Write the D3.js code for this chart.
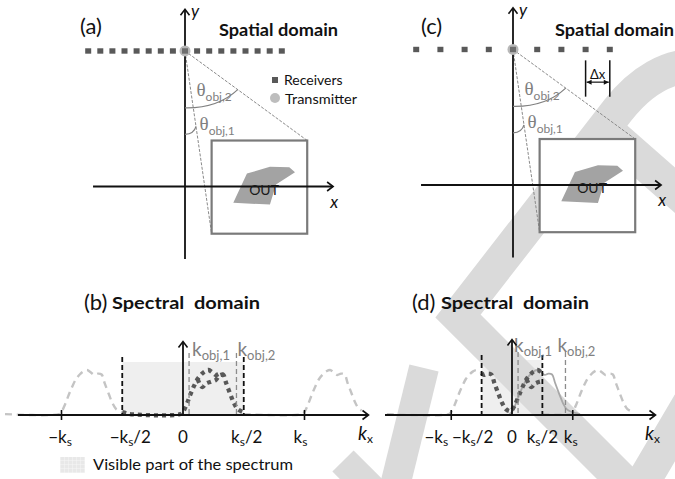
<!DOCTYPE html>
<html>
<head>
<meta charset="utf-8">
<script src="https://cdn.jsdelivr.net/npm/d3@7"></script>
<style>
  html, body { margin: 0; padding: 0; background: #fff; }
  svg { display: block; font-family: Lato, "Open Sans", sans-serif; }
</style>
</head>
<body>
<svg id="fig" width="675" height="479"></svg>
<script>
// ---------------- data ----------------
// receiver indices along the array (pitch Δx)
const receiverIdxA = [-8, -7, -6, -5, -4, -3, -2, -1, 0, 1, 2, 3, 4, 5, 6, 7, 8];
const receiverIdxC = [-4, -3, -2, -1, 0, 1, 2, 3, 4];
const pitchA = 1;          // Δx in panel (a)
const pitchC = 2;          // Δx doubled in panel (c)
const arrayHeight = 11.2;  // array height above the x axis (same units)

// region of interest and object under test
const boxX = [2.2, 10.1];
const boxY = [-3.9, 3.8];
const objectShape = [[5.12, 1.07], [7.02, 1.63], [8.62, 1.60], [9.09, 1.18],
                     [7.52, 0.17], [7.02, -1.49], [3.99, -1.35]];

// object spectrum: wavenumber (in units of ks of panel b) and magnitude
const spectrumK = [-0.02, 0.0, 0.03, 0.06, 0.09, 0.12, 0.15, 0.18, 0.21, 0.24, 0.27, 0.30,
                   0.33, 0.355, 0.39, 0.42, 0.45, 0.49, 0.53, 0.56];
const spectrumA = [0.02, 0.07, 0.24, 0.45, 0.64, 0.80, 0.90, 0.97, 1.00, 0.95, 0.89, 0.92,
                   0.90, 0.71, 0.46, 0.26, 0.13, 0.07, 0.04, 0.02];
// second stroke of the spectrum around its maximum
const innerK = [0.12, 0.14, 0.16, 0.19, 0.23, 0.27, 0.30, 0.33];
const innerA = [0.80, 0.68, 0.62, 0.70, 0.74, 0.78, 0.88, 0.90];

const kObj = [0.05, 0.44];           // kobj,1 and kobj,2
const ksB = 1.0;                     // sampling wavenumber, panel (b)
const ksD = 0.5;                     // sampling wavenumber, panel (d) (Δx doubled)
const tickMultiples = [-1, -0.5, 0, 0.5, 1];
const tickLabels = [["−k", "s", ""], ["−k", "s", "/2"], ["0", "", ""], ["k", "s", "/2"], ["k", "s", ""]];

// ---------------- helpers ----------------
const svg = d3.select("#fig");
const INK = "#111";
const GREY = "#808080";

function chevron(g, x, y, dir) {
  const p = d3.path();
  if (dir === "right") { p.moveTo(x - 6, y - 4.5); p.lineTo(x, y); p.lineTo(x - 6, y + 4.5); }
  else { p.moveTo(x - 4.5, y + 6); p.lineTo(x, y); p.lineTo(x + 4.5, y + 6); }
  g.append("path").attr("d", p.toString()).attr("fill", "none")
    .attr("stroke", INK).attr("stroke-width", 1.6);
}

// text with a lowered subscript and optional suffix
function subText(g, x, y, main, sub, suffix, o) {
  const t = g.append("text").attr("x", x).attr("y", y)
    .attr("font-size", o.size).attr("fill", o.fill || INK)
    .attr("text-anchor", o.anchor || "start");
  const m = t.append("tspan").text(main);
  if (o.mainFamily) m.attr("font-family", o.mainFamily);
  if (o.italic) m.attr("font-style", "italic");
  if (sub) t.append("tspan").attr("font-size", o.subSize).attr("dy", o.subDy).text(sub);
  if (suffix) t.append("tspan").attr("dy", -o.subDy).text(suffix);
  return t;
}

// ---------------- decorative background bands ----------------
const bandPaths = [
  { d: "M 700 66 C 668 64 640 82 618 110 L 458 316 L 636 494 L 702 382", w: 34 },
  { d: "M 602 126 L 702 214", w: 34 },
  { d: "M 392 498 L 424 368", w: 30 },
  { d: "M 343 461 L 384 502", w: 30 }
];

// ---------------- spectral panel frames (shading first) ----------------
function spectralPanel(o) {
  const g = svg.append("g");
  const kx = d3.scaleLinear().domain([0, 1]).range([o.x0, o.x0 + 121.5]);
  const ay = d3.scaleLinear().domain([0, 1]).range([415, 370]);
  const ks = o.ks, half = ks / 2;
  const line = d3.line().x(d => kx(d[0])).y(d => ay(d[1])).curve(d3.curveCatmullRom.alpha(0.5));
  // visible (unaliased) band
  g.append("rect").attr("x", kx(-half)).attr("y", o.shadeTop).attr("width", kx(half) - kx(-half))
    .attr("height", 415 - o.shadeTop).attr("fill", "#efefef");
  return { kx, ay, ks, half, line };
}
const PB = spectralPanel({ x0: 183, ks: ksB, shadeTop: 362 });
const PD = spectralPanel({ x0: 512, ks: ksD, shadeTop: 360 });

svg.append("g").selectAll("path").data(bandPaths).join("path").attr("d", d => d.d)
  .attr("fill", "none").attr("stroke", "#dadada").attr("stroke-width", d => d.w)
  .attr("stroke-linejoin", "miter").attr("stroke-miterlimit", 10);

// ---------------- spatial panels ----------------
function spatialPanel(o) {
  const g = svg.append("g");
  const sx = d3.scaleLinear().domain([0, 1]).range([o.ox, o.ox + 12.1]);
  const sy = d3.scaleLinear().domain([0, 1]).range([o.oy, o.oy - 12.1]);

  // rays from the transmitter to the corners of the region
  const tx = sx(0), ty = sy(arrayHeight);
  g.append("line").attr("x1", tx).attr("y1", ty).attr("x2", sx(boxX[1])).attr("y2", sy(boxY[1]))
    .attr("stroke", "#8a8a8a").attr("stroke-width", 1).attr("stroke-dasharray", "3,1.5");
  g.append("line").attr("x1", tx).attr("y1", ty).attr("x2", sx(boxX[0])).attr("y2", sy(boxY[0]))
    .attr("stroke", "#8a8a8a").attr("stroke-width", 1).attr("stroke-dasharray", "3,1.5");

  // region box
  g.append("rect").attr("x", sx(boxX[0])).attr("y", sy(boxY[1]))
    .attr("width", sx(boxX[1]) - sx(boxX[0])).attr("height", sy(boxY[0]) - sy(boxY[1]))
    .attr("fill", "#fff").attr("stroke", "#7a7a7a").attr("stroke-width", 2.2);

  // object
  g.append("path").attr("d", d3.line().x(d => sx(d[0])).y(d => sy(d[1]))(objectShape) + "Z")
    .attr("fill", "#a3a3a3");

  // axes
  g.append("line").attr("x1", sx(-7.6)).attr("y1", sy(0)).attr("x2", sx(12.2)).attr("y2", sy(0))
    .attr("stroke", INK).attr("stroke-width", 1.8);
  chevron(g, sx(12.2) + 0.5, sy(0), "right");
  g.append("line").attr("x1", sx(0)).attr("y1", sy(-6.0)).attr("x2", sx(0)).attr("y2", sy(14.6))
    .attr("stroke", INK).attr("stroke-width", 1.8);
  chevron(g, sx(0), sy(14.6) - 0.5, "up");
  g.append("text").attr("x", sx(0) + 6).attr("y", sy(14.0)).attr("font-size", 17)
    .attr("font-style", "italic").attr("fill", INK).text("y");
  g.append("text").attr("x", sx(12.0)).attr("y", sy(-1.75)).attr("font-size", 17)
    .attr("font-style", "italic").attr("fill", INK).text("x");

  g.append("text").attr("x", sx(5.3)).attr("y", sy(-0.68)).attr("font-size", 14)
    .attr("fill", "#1a1a1a").text("OUT");

  // angle marks
  const dir2 = [boxX[1], boxY[1] - arrayHeight];
  const len2 = Math.hypot(dir2[0], dir2[1]);
  const e2 = [dir2[0] / len2 * 5.4, arrayHeight + dir2[1] / len2 * 5.4];
  const p2 = d3.path();
  p2.moveTo(sx(0), sy(arrayHeight - 4.7));
  p2.quadraticCurveTo(sx(2.7), sy(arrayHeight - 4.75), sx(e2[0]), sy(e2[1]));
  g.append("path").attr("d", p2.toString()).attr("fill", "none").attr("stroke", GREY).attr("stroke-width", 1.2);

  const dir1 = [boxX[0], boxY[0] - arrayHeight];
  const len1 = Math.hypot(dir1[0], dir1[1]);
  const e1 = [dir1[0] / len1 * 6.3, arrayHeight + dir1[1] / len1 * 6.3];
  const p1 = d3.path();
  p1.moveTo(sx(0), sy(4.3));
  p1.quadraticCurveTo(sx(0.75), sy(4.35), sx(e1[0]), sy(e1[1]));
  g.append("path").attr("d", p1.toString()).attr("fill", "none").attr("stroke", GREY).attr("stroke-width", 1.2);

  subText(g, sx(0.95), sy(7.45), "θ", "obj,2", "", { size: 19, subSize: 12, subDy: 5, fill: GREY, mainFamily: "'Liberation Serif', serif" });
  subText(g, sx(1.2), sy(4.7), "θ", "obj,1", "", { size: 19, subSize: 12, subDy: 5, fill: GREY, mainFamily: "'Liberation Serif', serif" });

  // receivers and transmitter
  g.append("circle").attr("cx", tx).attr("cy", ty).attr("r", 5.5).attr("fill", "#b8b8b8");
  g.selectAll("rect.rx").data(o.receivers).join("rect").attr("class", "rx")
    .attr("x", d => sx(d * o.pitch) - 3).attr("y", ty - 2.7)
    .attr("width", 6).attr("height", 5.4)
    .attr("fill", d => d === 0 ? "#6e6e6e" : "#595959");

  // titles
  g.append("text").attr("x", o.labelX).attr("y", 34).attr("font-size", 22).attr("fill", INK).text(o.label);
  g.append("text").attr("x", o.titleX).attr("y", 36).attr("font-size", 17).attr("font-weight", "bold")
    .attr("fill", INK).attr("textLength", 119).attr("lengthAdjust", "spacingAndGlyphs").text("Spatial domain");
  return { g, sx, sy };
}

const panelA = spatialPanel({ ox: 185, oy: 186.5, receivers: receiverIdxA, pitch: pitchA, label: "(a)", labelX: 80, titleX: 219 });
const panelC = spatialPanel({ ox: 513, oy: 185, receivers: receiverIdxC, pitch: pitchC, label: "(c)", labelX: 421, titleX: 555 });

// legend of panel (a)
svg.append("rect").attr("x", 272).attr("y", 77).attr("width", 6).attr("height", 6).attr("fill", "#595959");
svg.append("text").attr("x", 284).attr("y", 85).attr("font-size", 14).attr("fill", INK).text("Receivers");
svg.append("circle").attr("cx", 275).attr("cy", 98).attr("r", 5).attr("fill", "#bdbdbd");
svg.append("text").attr("x", 285).attr("y", 104).attr("font-size", 14).attr("fill", INK)
  .attr("textLength", 72).attr("lengthAdjust", "spacingAndGlyphs").text("Transmitter");

// Δx annotation in panel (c)
{
  const { g, sx, sy } = panelC;
  const xa = sx(receiverIdxC[7] * pitchC), xb = sx(receiverIdxC[8] * pitchC);
  [xa, xb].forEach(x => g.append("line").attr("x1", x).attr("x2", x).attr("y1", sy(10.3)).attr("y2", sy(7.3))
    .attr("stroke", INK).attr("stroke-width", 1.5));
  const ya = sy(8.5);
  g.append("line").attr("x1", xa + 1).attr("x2", xb - 1).attr("y1", ya).attr("y2", ya).attr("stroke", INK).attr("stroke-width", 1.2);
  g.append("path").attr("d", `M${xa + 1},${ya} l5,-2.5 l0,5 Z M${xb - 1},${ya} l-5,-2.5 l0,5 Z`).attr("fill", INK);
  g.append("text").attr("x", (xa + xb) / 2).attr("y", sy(8.75)).attr("text-anchor", "middle")
    .attr("font-size", 13).attr("fill", INK).text("Δx");
}

// ---------------- spectral content ----------------
const spectrum = spectrumK.map((k, i) => [k, spectrumA[i]]);
const inner = innerK.map((k, i) => [k, innerA[i]]);
const base = spectrumA[0];
function specAt(k) {
  if (k <= spectrumK[0]) return spectrumA[0];
  if (k >= spectrumK[spectrumK.length - 1]) return spectrumA[spectrumA.length - 1];
  const i = d3.bisectRight(spectrumK, k) - 1;
  const t = (k - spectrumK[i]) / (spectrumK[i + 1] - spectrumK[i]);
  return spectrumA[i] + t * (spectrumA[i + 1] - spectrumA[i]);
}

function spectralContent(P, o) {
  const g = svg.append("g");
  const { kx, ks, half, line } = P;

  // replicas at ±ks outside the visible band
  const leftRep = [[o.kMin, specAt(o.kMin + ks)]]
    .concat(spectrum.map(d => [d[0] - ks, d[1]]).filter(d => d[0] > o.kMin && d[0] < -half))
    .concat([[-half, specAt(-half + ks)]]);
  const rightRep = [[half, specAt(half - ks)]]
    .concat(spectrum.map(d => [d[0] + ks, d[1]]).filter(d => d[0] > half && d[0] < o.kMax))
    .concat([[o.kMax, specAt(o.kMax - ks)]]);
  [leftRep, rightRep].forEach(r => g.append("path").attr("d", line(r)).attr("fill", "none")
    .attr("stroke", "#c4c4c4").attr("stroke-width", 2.4).attr("stroke-dasharray", "7,5"));

  // true spectrum drawn thin where it leaves the visible band
  if (o.showTrue) {
    const tr = spectrum.filter(d => d[0] > -0.2);
    g.append("path").attr("d", line(tr)).attr("fill", "none").attr("stroke", "#a8a8a8").attr("stroke-width", 1.8);
  }

  // spectrum seen inside the band: sum of the folded replicas
  const kk = spectrumK.concat(spectrumK.map(k => k - ks), spectrumK.map(k => k + ks), [-half, half])
    .filter(k => k >= -half && k <= half).sort((a, b) => a - b);
  const seen = Array.from(new Set(kk)).map(k => [k, specAt(k) + specAt(k + ks) + specAt(k - ks) - 2 * base]);
  const dotted = { fill: "none", stroke: "#585858", "stroke-width": 4.3, "stroke-dasharray": "4,4" };
  const pSeen = g.append("path").attr("d", line(seen));
  const pIn = g.append("path").attr("d", line(inner.filter(d => d[0] <= half + 0.01)));
  [pSeen, pIn].forEach(p => Object.entries(dotted).forEach(([k, v]) => p.attr(k, v)));

  // band limits ±ks/2
  [-half, half].forEach(k => g.append("line").attr("x1", kx(k)).attr("x2", kx(k)).attr("y1", o.limTop).attr("y2", 415)
    .attr("stroke", INK).attr("stroke-width", 1.8).attr("stroke-dasharray", "5,3"));
  // kobj markers
  kObj.forEach((k, i) => {
    g.append("line").attr("x1", kx(k)).attr("x2", kx(k)).attr("y1", o.objTop).attr("y2", 415)
      .attr("stroke", "#8c8c8c").attr("stroke-width", 1.3).attr("stroke-dasharray", "5,3");
    subText(g, kx(k) + o.objDx[i], o.objBase, "k", "obj," + (i + 1), "", { size: 19, subSize: 13, subDy: 4, fill: GREY });
  });

  // axes
  g.append("line").attr("x1", o.axStart).attr("x2", o.axEnd).attr("y1", 415).attr("y2", 415)
    .attr("stroke", INK).attr("stroke-width", 1.8);
  chevron(g, o.axEnd + 0.5, 415, "right");
  g.append("line").attr("x1", kx(0)).attr("x2", kx(0)).attr("y1", 416).attr("y2", o.vTop)
    .attr("stroke", INK).attr("stroke-width", 1.8);
  chevron(g, kx(0), o.vTop - 0.5, "up");

  // ticks at ±ks
  [-ks, ks].forEach(k => g.append("line").attr("x1", kx(k)).attr("x2", kx(k)).attr("y1", 410).attr("y2", 420)
    .attr("stroke", INK).attr("stroke-width", 1.6));
  tickMultiples.forEach((m, i) => {
    const L = tickLabels[i];
    subText(g, kx(m * ks) + o.tickNudge[i], 443, L[0], L[1], L[2], { size: 17, subSize: 12, subDy: 3, anchor: "middle" });
  });
  subText(g, o.axEnd - 10, 440, "k", "x", "", { size: 19, subSize: 12, subDy: 3, italic: true });

  // title
  g.append("text").attr("x", o.labelX).attr("y", 310).attr("font-size", 22).attr("fill", INK).text(o.label);
  g.append("text").attr("x", o.titleX).attr("y", 309).attr("font-size", 17).attr("font-weight", "bold")
    .attr("fill", INK).attr("textLength", 148).attr("lengthAdjust", "spacingAndGlyphs")
    .style("white-space", "pre").text("Spectral  domain");
}

spectralContent(PB, { kMin: -1.465, kMax: 1.47, showTrue: false, limTop: 357, objTop: 353, objBase: 356,
  objDx: [3, 1], axStart: 18, axEnd: 368, vTop: 342, tickNudge: [-1.5, 8, 0, 3, -4],
  label: "(b)", labelX: 84, titleX: 112 });
spectralContent(PD, { kMin: -1.03, kMax: 0.98, showTrue: true, limTop: 355, objTop: 352, objBase: 352,
  objDx: [-4, -8], axStart: 385, axEnd: 655, vTop: 340, tickNudge: [-15, -9, 0, 0, -2],
  label: "(d)", labelX: 412, titleX: 441 });

// legend of the visible band
const defs = svg.append("defs");
const pat = defs.append("pattern").attr("id", "grid").attr("width", 4).attr("height", 4).attr("patternUnits", "userSpaceOnUse");
pat.append("rect").attr("width", 4).attr("height", 4).attr("fill", "#e8e8e8");
pat.append("path").attr("d", "M0,0.3 H4 M0.3,0 V4").attr("stroke", "#f6f6f6").attr("stroke-width", 0.6);
svg.append("rect").attr("x", 60).attr("y", 457).attr("width", 25).attr("height", 16).attr("fill", "url(#grid)");
svg.append("text").attr("x", 93).attr("y", 470).attr("font-size", 16).attr("fill", INK)
  .attr("textLength", 200).attr("lengthAdjust", "spacingAndGlyphs").text("Visible part of the spectrum");
</script>
</body>
</html>
